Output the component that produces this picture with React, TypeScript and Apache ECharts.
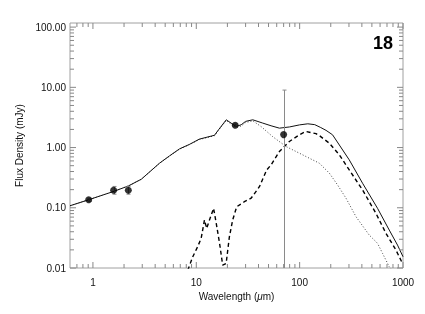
import React, { useEffect, useRef } from "react";
import * as echarts from "echarts";

// Total model (solid)
const totalWave = [0.6, 0.91, 1.56, 2.2, 2.94, 4.41, 5.51, 6.88, 8.6, 10.7, 15.0, 16.4, 19.5, 21.7, 24.3, 27.2, 30, 35.2, 43.9, 52.9, 63.7, 80, 100, 120, 140, 160, 180, 208, 302, 406, 567, 736, 885, 1000];
const totalFlux = [0.108, 0.136, 0.185, 0.23, 0.298, 0.55, 0.728, 0.951, 1.13, 1.38, 1.6, 1.97, 2.89, 2.55, 2.24, 2.39, 2.72, 2.89, 2.55, 2.3, 2.1, 2.2, 2.38, 2.48, 2.4, 2.15, 1.93, 1.63, 0.624, 0.256, 0.098, 0.0427, 0.024, 0.0154];

// Dotted component
const dotWave = [0.6, 0.91, 1.56, 2.2, 2.94, 4.41, 5.51, 6.88, 8.6, 10.7, 15.0, 16.4, 19.5, 21.7, 24.3, 27.2, 30, 35.2, 42.4, 54.8, 73.9, 99.3, 124, 155, 194, 233, 281, 351, 471, 567, 634, 736, 822];
const dotFlux = [0.108, 0.136, 0.185, 0.23, 0.298, 0.55, 0.72, 0.94, 1.12, 1.36, 1.57, 1.93, 2.82, 2.45, 2.15, 2.28, 2.6, 2.78, 2.23, 1.52, 1.04, 0.807, 0.666, 0.55, 0.375, 0.239, 0.144, 0.0711, 0.0353, 0.0257, 0.0175, 0.0105, 0.0085];

// Dashed component
const dashWave = [8.28, 9.25, 10.3, 11.15, 12.0, 12.6, 13.6, 14.7, 15.6, 16.8, 18.0, 19.45, 20.9, 22.5, 24.6, 29.2, 33.9, 40.8, 48.0, 52.9, 63.7, 79.5, 99.3, 115, 144, 155, 194, 242, 302, 406, 547, 684, 854, 989];
const dashFlux = [0.0092, 0.0154, 0.0225, 0.0311, 0.0627, 0.0456, 0.0668, 0.098, 0.0552, 0.0257, 0.0112, 0.0119, 0.033, 0.0627, 0.104, 0.126, 0.144, 0.224, 0.425, 0.515, 0.858, 1.26, 1.63, 1.85, 1.7, 1.58, 1.18, 0.756, 0.425, 0.198, 0.081, 0.0377, 0.0199, 0.0119];

// Observed photometry
const obsWave = [0.91, 1.585, 2.2, 23.8, 70];
const obsFlux = [0.136, 0.195, 0.195, 2.35, 1.64];
const obsLow = [0.128, 0.168, 0.168, 2.25, 0.001];
const obsHigh = [0.144, 0.226, 0.226, 2.45, 9.0];

// Axis ticks
const xMajorTicks = [1, 10, 100, 1000];
const xMinorTicks = [0.7, 0.8, 0.9, 2, 3, 4, 5, 6, 7, 8, 9, 20, 30, 40, 50, 60, 70, 80, 90, 200, 300, 400, 500, 600, 700, 800, 900];
const yMajorTicks = [0.01, 0.1, 1, 10, 100];
const yMinorTicks = [0.02, 0.03, 0.04, 0.05, 0.06, 0.07, 0.08, 0.09, 0.2, 0.3, 0.4, 0.5, 0.6, 0.7, 0.8, 0.9, 2, 3, 4, 5, 6, 7, 8, 9, 20, 30, 40, 50, 60, 70, 80, 90];

const FONT = "Liberation Sans, Arial, Helvetica, sans-serif";
const FRAME = "#a0a0a0";
const TICK = "#888888";

const zip = (a: number[], b: number[]) => a.map((v, i) => [v, b[i]]);
const isPow10 = (v: number) => {
  const l = Math.log10(v);
  return Math.abs(l - Math.round(l)) < 1e-6;
};

const W = 425;
const H = 314;

const xTickSeries = (side: "bottom" | "top") => ({
  type: "custom",
  z: 8,
  data: [...xMajorTicks.map((v) => [v, 1, 6]), ...xMinorTicks.map((v) => [v, 1, 4])],
  renderItem: (params: any, api: any) => {
    const cs = params.coordSys;
    const x = api.coord([api.value(0), 1])[0];
    const len = api.value(2);
    const y0 = side === "bottom" ? cs.y + cs.height : cs.y;
    const y1 = side === "bottom" ? y0 - len : y0 + len;
    return { type: "line", shape: { x1: x, y1: y0, x2: x, y2: y1 }, style: { stroke: TICK, lineWidth: 1 } };
  },
});

const yTickSeries = (side: "left" | "right") => ({
  type: "custom",
  z: 8,
  data: [...yMajorTicks.map((v) => [1, v, 6]), ...yMinorTicks.map((v) => [1, v, 4])],
  renderItem: (params: any, api: any) => {
    const cs = params.coordSys;
    const y = api.coord([1, api.value(1)])[1];
    const len = api.value(2);
    const x0 = side === "left" ? cs.x : cs.x + cs.width;
    const x1 = side === "left" ? x0 + len : x0 - len;
    return { type: "line", shape: { x1: x0, y1: y, x2: x1, y2: y }, style: { stroke: TICK, lineWidth: 1 } };
  },
});

export default function App() {
  const ref = useRef<HTMLDivElement>(null);
  useEffect(() => {
    const chart = echarts.init(ref.current!, null, { renderer: "svg" });
    const option: any = {
      animation: false,
      grid: {
        left: 70,
        right: 22,
        top: 23,
        bottom: 46,
        show: true,
        borderColor: FRAME,
        borderWidth: 1,
      },
      xAxis: {
        type: "log",
        logBase: 10,
        min: 0.6,
        max: 1000,
        axisLine: { show: false },
        axisTick: { show: false },
        splitLine: { show: false },
        axisLabel: {
          margin: 9,
          fontSize: 10,
          fontFamily: FONT,
          color: "#111",
          formatter: (v: number) => (isPow10(v) ? String(Math.round(v)) : ""),
        },
        name: "Wavelength ({i|μ}m)",
        nameLocation: "middle",
        nameGap: 23,
        nameTextStyle: {
          fontSize: 10,
          fontFamily: FONT,
          color: "#111",
          rich: { i: { fontStyle: "italic", fontSize: 10, fontFamily: FONT, color: "#111" } },
        },
      },
      yAxis: {
        type: "log",
        logBase: 10,
        min: 0.01,
        max: 117,
        axisLine: { show: false },
        axisTick: { show: false },
        splitLine: { show: false },
        axisLabel: {
          margin: 4,
          fontSize: 10,
          fontFamily: FONT,
          color: "#111",
          formatter: (v: number) => (isPow10(v) ? v.toFixed(2) : ""),
        },
        name: "Flux Density (mJy)",
        nameLocation: "middle",
        nameGap: 39,
        nameTextStyle: { fontSize: 10, fontFamily: FONT, color: "#111" },
      },
      graphic: [
        {
          type: "text",
          x: 393,
          y: 43,
          style: {
            text: "18",
            align: "right",
            verticalAlign: "middle",
            fontSize: 18,
            fontWeight: "bold",
            fontFamily: FONT,
            fill: "#000",
          },
        },
      ],
      series: [
        xTickSeries("bottom"),
        xTickSeries("top"),
        yTickSeries("left"),
        yTickSeries("right"),
        {
          type: "line",
          data: zip(dotWave, dotFlux),
          showSymbol: false,
          symbol: "none",
          lineStyle: { color: "#444", width: 1, type: [1, 2] },
          clip: true,
          z: 3,
        },
        {
          type: "line",
          data: zip(dashWave, dashFlux),
          showSymbol: false,
          symbol: "none",
          lineStyle: { color: "#000", width: 1.4, type: [4, 3] },
          clip: true,
          z: 3,
        },
        {
          type: "line",
          data: zip(totalWave, totalFlux),
          showSymbol: false,
          symbol: "none",
          lineStyle: { color: "#111", width: 1 },
          clip: true,
          z: 4,
        },
        {
          type: "custom",
          clip: true,
          z: 5,
          data: obsWave.map((w, i) => [w, obsFlux[i], obsLow[i], obsHigh[i]]),
          renderItem: (params: any, api: any) => {
            const cs = params.coordSys;
            const w = api.value(0);
            const x = Math.round(api.coord([w, 1])[0]) + 0.5;
            const yTop = api.coord([w, api.value(3)])[1];
            const yBot = api.coord([w, api.value(2)])[1];
            const bottom = cs.y + cs.height;
            const botClamped = Math.min(yBot, bottom);
            const children: any[] = [
              { type: "line", shape: { x1: x, y1: yTop, x2: x, y2: botClamped }, style: { stroke: "#8a8a8a", lineWidth: 1 } },
              { type: "line", shape: { x1: x - 2, y1: yTop, x2: x + 2, y2: yTop }, style: { stroke: "#8a8a8a", lineWidth: 1 } },
            ];
            if (yBot < bottom) {
              children.push({ type: "line", shape: { x1: x - 2, y1: yBot, x2: x + 2, y2: yBot }, style: { stroke: "#8a8a8a", lineWidth: 1 } });
            }
            return { type: "group", children };
          },
        },
        {
          type: "scatter",
          data: zip(obsWave, obsFlux),
          symbol: "circle",
          symbolSize: 7,
          itemStyle: { color: "#000" },
          z: 6,
        },
      ],
    };
    chart.setOption(option);
    return () => chart.dispose();
  }, []);
  return <div ref={ref} style={{ position: "fixed", left: 0, top: 0, width: W, height: H }} />;
}
